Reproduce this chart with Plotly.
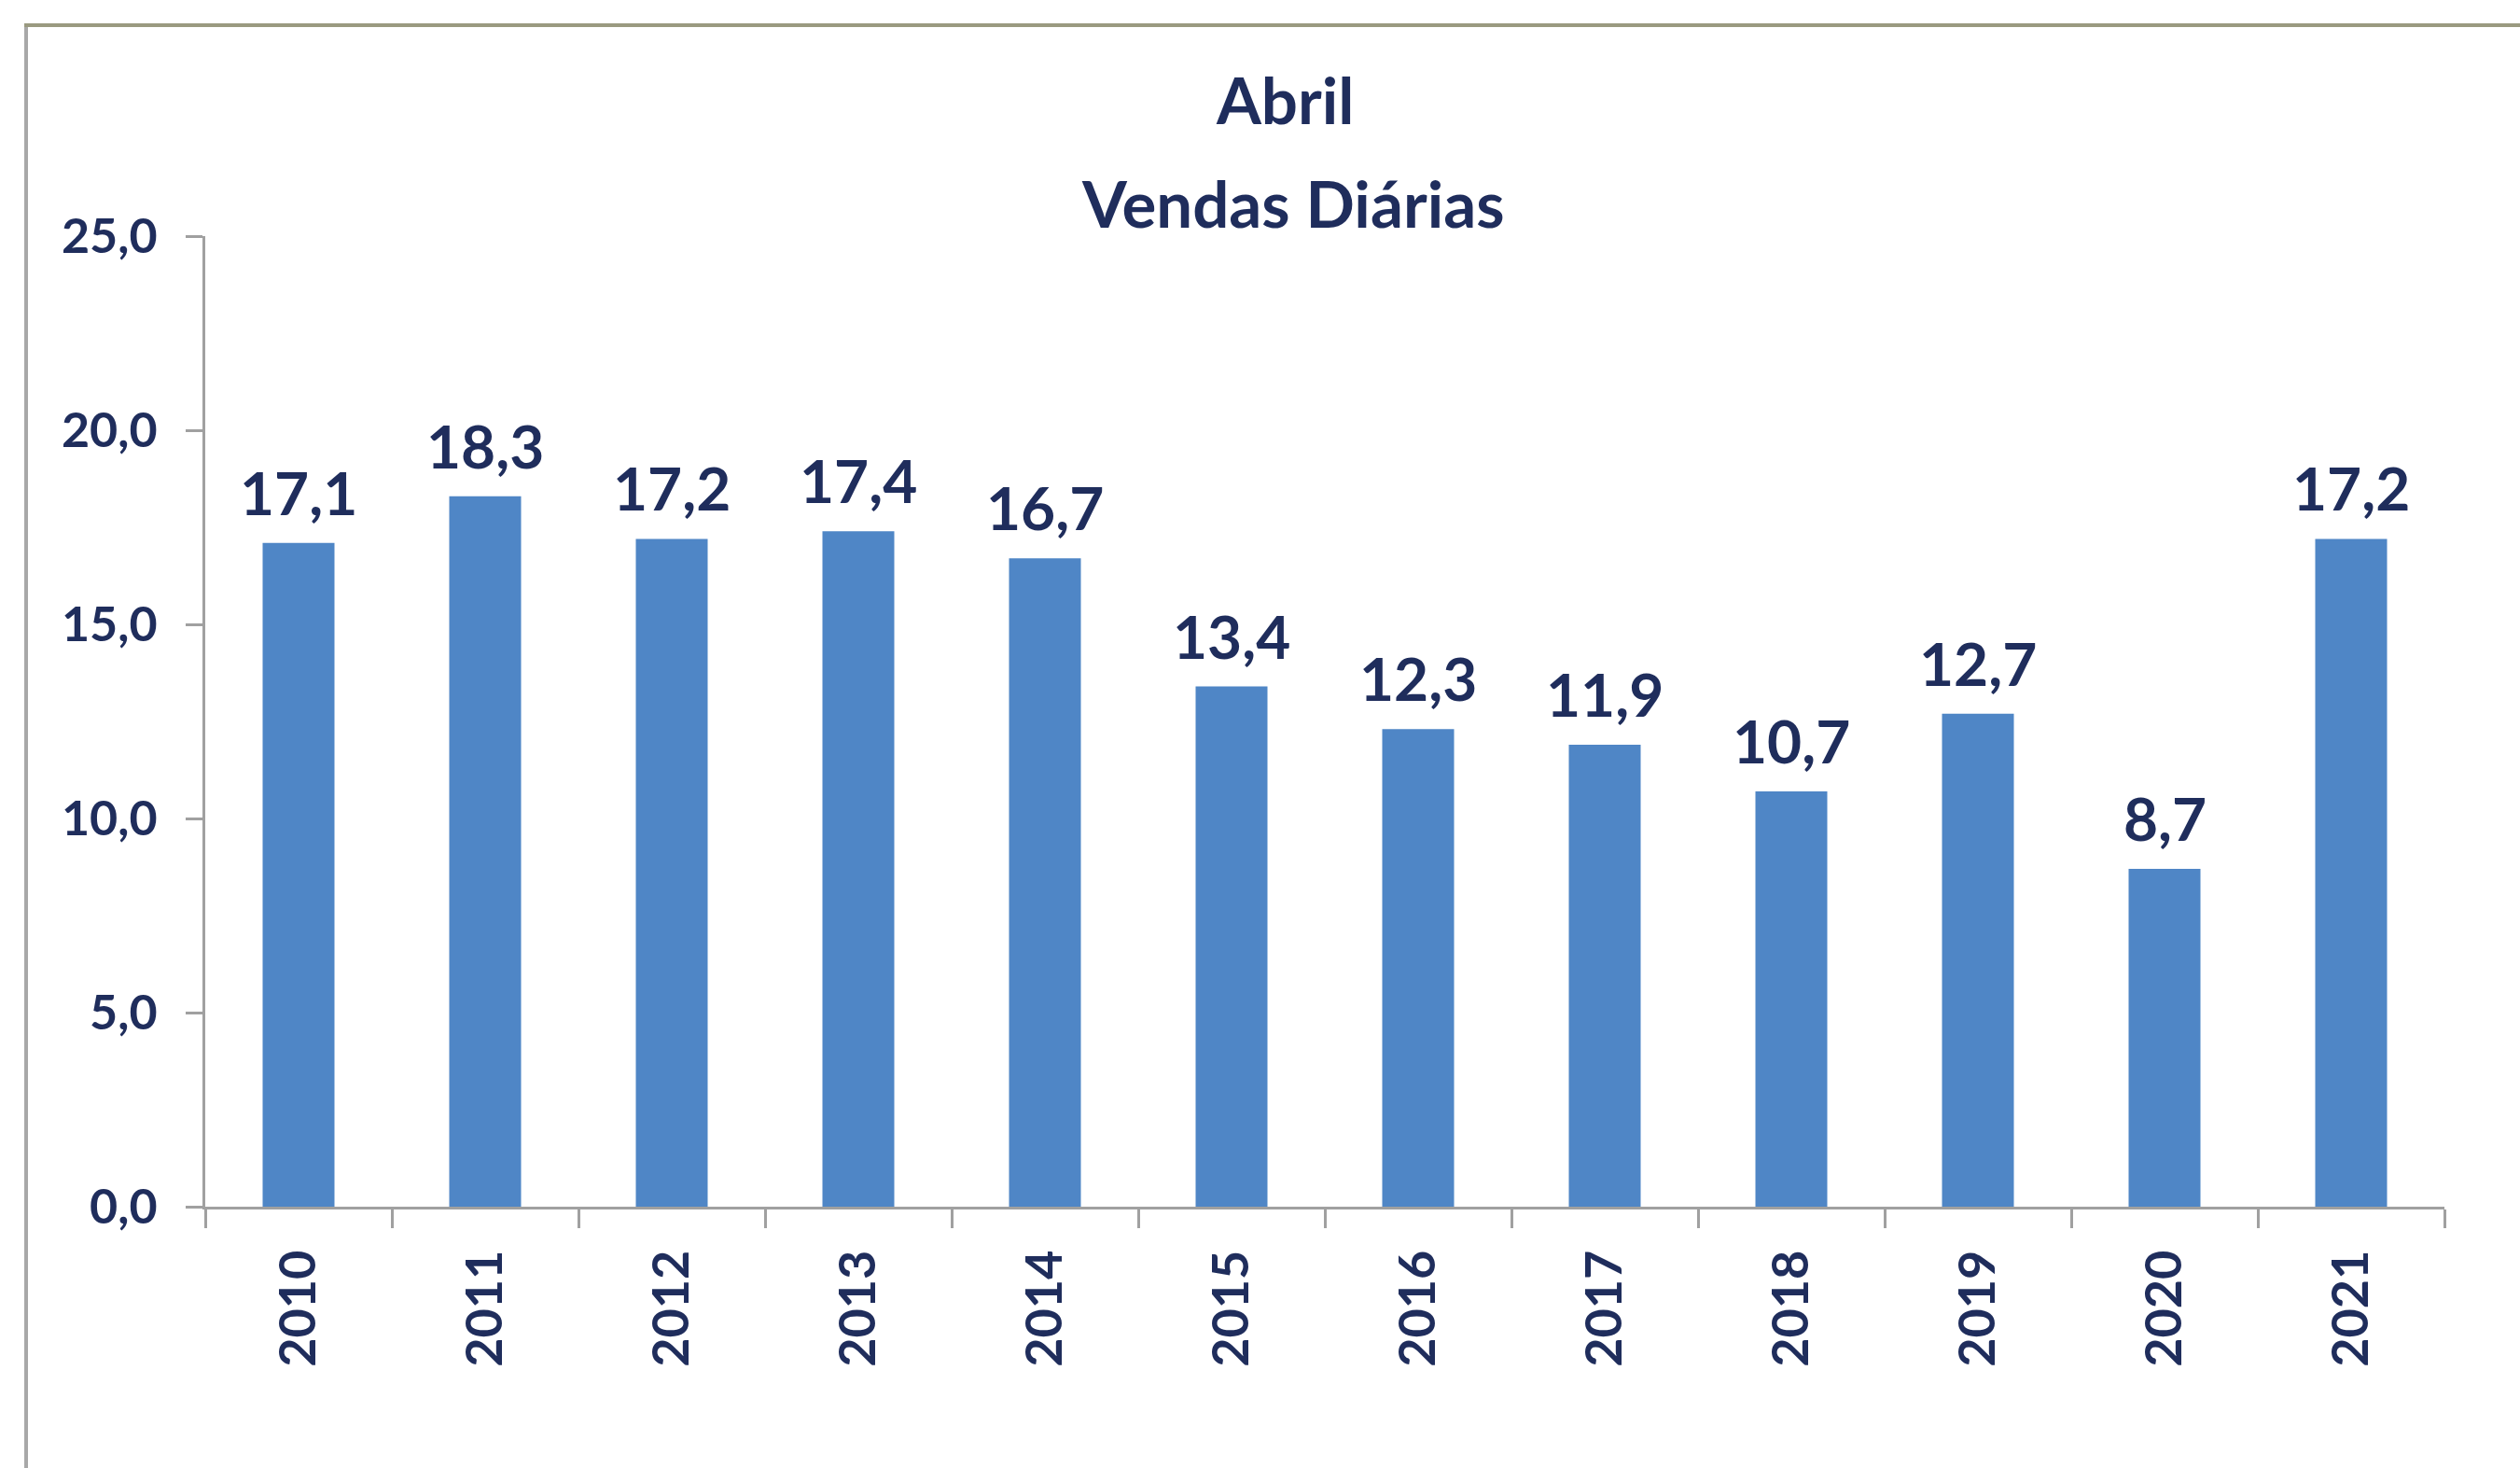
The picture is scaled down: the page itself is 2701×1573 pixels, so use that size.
import plotly.graph_objects as go

years = ["2010", "2011", "2012", "2013", "2014", "2015", "2016", "2017", "2018", "2019", "2020", "2021"]
vendas = [17.1, 18.3, 17.2, 17.4, 16.7, 13.4, 12.3, 11.9, 10.7, 12.7, 8.7, 17.2]
y_ticks = [0, 5, 10, 15, 20, 25]
title_line1 = "Abril"
title_line2 = "Vendas Diárias"

W, H = 2701, 1573
L, R, T, B = 220, 81, 253, 280
PW, PH = W - L - R, H - T - B

def px_x(px):
    return (px - L) / PW

def px_y(py):
    return (H - B - py) / PH

TEXT = "#1F2D5C"
FONT = "Lato"

fig = go.Figure()
fig.add_trace(go.Bar(
    x=years, y=vendas,
    marker=dict(color="#4F86C6", line=dict(width=0)),
    width=0.385,
    showlegend=False,
))

# value labels: category index positions on the category axis
for i, v in enumerate(vendas):
    fig.add_annotation(
        x=i, y=v, xref="x", yref="y",
        text=f"{v:.1f}".replace(".", ","),
        showarrow=False, yanchor="bottom", xanchor="center",
        yshift=14,
        font=dict(family=FONT, size=64, color=TEXT, weight="bold"),
    )

fig.add_annotation(
    x=px_x(1377), y=px_y(106), xref="paper", yref="paper",
    text=title_line1, showarrow=False, xanchor="center", yanchor="middle",
    font=dict(family=FONT, size=69, color=TEXT, weight="bold"),
)
fig.add_annotation(
    x=px_x(1386), y=px_y(218), xref="paper", yref="paper",
    text=title_line2, showarrow=False, xanchor="center", yanchor="middle",
    font=dict(family=FONT, size=69, color=TEXT, weight="bold"),
)

# chart frame (left and top edges visible)
fig.add_shape(type="line", xref="paper", yref="paper",
              x0=px_x(28), x1=px_x(28), y0=px_y(26), y1=px_y(H + 10),
              line=dict(color="#A8A8A8", width=4))
fig.add_shape(type="line", xref="paper", yref="paper",
              x0=px_x(26), x1=px_x(W + 10), y0=px_y(27), y1=px_y(27),
              line=dict(color="#9A9A80", width=4))

fig.update_layout(
    width=W, height=H,
    margin=dict(l=L, r=R, t=T, b=B, autoexpand=False),
    paper_bgcolor="white", plot_bgcolor="white",
    separators=",.",
    bargap=0.615,
)
fig.update_xaxes(
    type="category", range=[-0.5, len(years) - 0.5],
    showline=True, linecolor="#A0A0A0", linewidth=3,
    ticks="outside", tickson="boundaries", ticklen=20, tickwidth=3, tickcolor="#A0A0A0",
    tickangle=-90,
    tickfont=dict(family=FONT, size=54, color=TEXT, weight="bold"),
    ticklabelstandoff=22,
    showgrid=False,
)
fig.update_yaxes(
    range=[0, 25], tickvals=y_ticks, tickformat=".1f",
    showline=True, linecolor="#A0A0A0", linewidth=3,
    ticks="outside", ticklen=18, tickwidth=3, tickcolor="#A0A0A0",
    tickfont=dict(family=FONT, size=52, color=TEXT, weight="bold"),
    ticklabelstandoff=20,
    showgrid=False, zeroline=False,
)

fig.write_html("out.html")
